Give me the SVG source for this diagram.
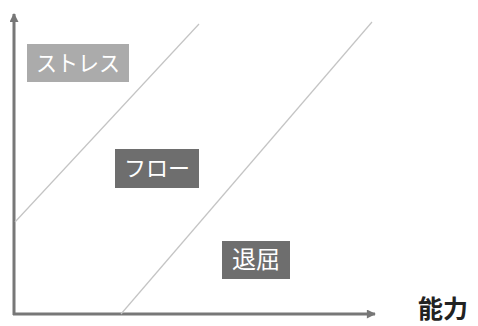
<svg xmlns="http://www.w3.org/2000/svg" width="478" height="326" viewBox="0 0 478 326">
<defs>
<marker id="arr" viewBox="0 0 10 10" refX="9" refY="5" markerWidth="3.3" markerHeight="3" orient="auto" markerUnits="strokeWidth">
<path d="M0,0 L10,5 L0,10 Z" fill="#777"/>
</marker>
</defs>
<style>
.axis{stroke:#777;stroke-width:3;fill:none}
.diag{stroke:#c4c4c4;stroke-width:1.2;fill:none}
.lbl{font-family:"Noto Sans CJK JP","Noto Sans CJK SC",sans-serif;font-size:22px;fill:#fff;text-anchor:middle}
.ax{font-family:"Noto Sans CJK JP","Noto Sans CJK SC",sans-serif;font-size:25px;font-weight:bold;fill:#222}
</style>
<rect width="478" height="326" fill="#fff"/>
<g id="connectors">
<line class="axis" x1="14" y1="315" x2="14" y2="14" marker-end="url(#arr)"/>
<line class="axis" x1="13" y1="314" x2="375" y2="314" marker-end="url(#arr)"/>
<line class="diag" x1="15" y1="222" x2="199" y2="24"/>
<line class="diag" x1="121" y1="314" x2="372" y2="22"/>
</g>
<g id="stress">
<rect x="27" y="44" width="102" height="38" fill="#ababab"/>
<text class="lbl" x="78" y="71" textLength="84" lengthAdjust="spacingAndGlyphs">ストレス</text>
</g>
<g id="flow">
<rect x="115" y="149" width="84" height="39" fill="#6e6e6e"/>
<text class="lbl" x="157" y="176">フロー</text>
</g>
<g id="boredom">
<rect x="222" y="241" width="68" height="38" fill="#6e6e6e"/>
<text class="lbl" x="256" y="268" style="font-size:24px">退屈</text>
</g>
<g id="ability">
<text class="ax" x="418" y="318">能力</text>
</g>
</svg>
